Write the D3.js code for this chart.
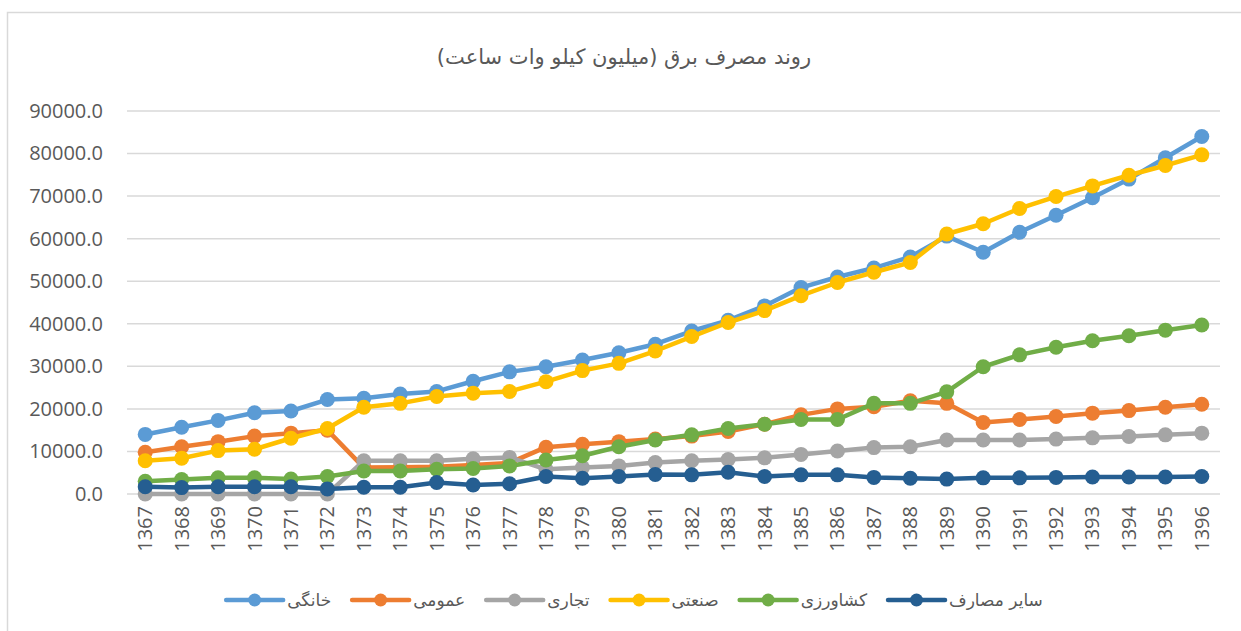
<!DOCTYPE html>
<html><head><meta charset="utf-8">
<script src="https://cdn.jsdelivr.net/npm/d3@7"></script>
<style>
html,body{margin:0;padding:0;background:#fff;}
svg{display:block;}
</style></head>
<body>
<svg id="chart" width="1241" height="631"></svg>
<script>
const titleText = "روند مصرف برق (میلیون کیلو وات ساعت)";
const years = ["1367","1368","1369","1370","1371","1372","1373","1374","1375","1376","1377","1378","1379","1380","1381","1382","1383","1384","1385","1386","1387","1388","1389","1390","1391","1392","1393","1394","1395","1396"];
const yTicks = [0,10000,20000,30000,40000,50000,60000,70000,80000,90000];
const seriesNames = ["خانگی","عمومی","تجاری","صنعتی","کشاورزی","سایر مصارف"];
const seriesColors = ["#5B9BD5","#ED7D31","#A5A5A5","#FFC000","#70AD47","#255E91"];
const khanegi = [14000,15700,17300,19100,19500,22200,22500,23500,24100,26500,28700,29900,31500,33200,35200,38300,40800,44200,48500,51000,53100,55700,60600,56800,61500,65500,69600,74000,79000,84000];
const omumi = [9800,11100,12300,13600,14300,15000,6200,6300,6400,6800,7300,11000,11700,12300,12900,13600,14700,16400,18600,20000,20500,21900,21300,16800,17500,18200,19000,19600,20400,21100];
const tejari = [0,0,0,0,0,0,7800,7800,7800,8300,8600,5800,6200,6600,7400,7800,8100,8500,9300,10100,10900,11100,12700,12700,12700,12900,13200,13500,13900,14300];
const sanati = [7800,8400,10200,10500,13100,15400,20400,21300,22900,23700,24100,26400,29000,30700,33600,37000,40300,43100,46600,49700,52100,54400,61100,63500,67100,69900,72400,74900,77200,79700];
const keshavarzi = [3000,3400,3800,3800,3500,4100,5400,5400,5800,6000,6600,8000,9000,11100,12700,13900,15400,16400,17500,17500,21300,21300,24000,29900,32700,34500,36000,37200,38500,39700];
const sayer = [1700,1500,1700,1700,1700,1200,1600,1600,2700,2100,2400,4100,3700,4100,4600,4500,5100,4100,4500,4500,3900,3700,3500,3800,3800,3900,4000,4000,4000,4100];
const allSeries = [khanegi, omumi, tejari, sanati, keshavarzi, sayer];

const svg = d3.select("#chart");
const txtColor = "#595959";
const numFont = "'Open Sans', sans-serif";
const arFont = "'DejaVu Sans', sans-serif";

// outer border (cropped chart area)
svg.append("rect").attr("x",7.5).attr("y",12.5).attr("width",1300).attr("height",700)
  .attr("fill","none").attr("stroke","#d9d9d9").attr("stroke-width",1.5);

const plot = {left:127, right:1220, top:111, bottom:494};
const x = d3.scaleBand().domain(years).range([plot.left, plot.right]);
const y = d3.scaleLinear().domain([0,90000]).range([plot.bottom, plot.top]);
const cx = d => x(d) + x.bandwidth()/2;

// title
svg.append("text").attr("x",624).attr("y",64).attr("text-anchor","middle")
  .attr("direction","rtl").attr("font-family",arFont).attr("font-size",21)
  .attr("fill",txtColor).text(titleText);

// gridlines
svg.append("g").selectAll("line").data(yTicks).join("line")
  .attr("x1",plot.left).attr("x2",plot.right)
  .attr("y1",d=>y(d)).attr("y2",d=>y(d))
  .attr("stroke","#d9d9d9").attr("stroke-width",1.5);

// y axis labels
const yAxis = d3.axisLeft(y).tickValues(yTicks).tickFormat(d=>d3.format(".1f")(d)).tickSize(0).tickPadding(24);
const gy = svg.append("g").attr("transform",`translate(${plot.left},0)`).call(yAxis);
gy.select(".domain").remove();
gy.selectAll("text").attr("font-family",numFont).attr("font-size",20).attr("fill",txtColor);

// x axis labels
const xAxis = d3.axisBottom(x).tickSize(0).tickPadding(0);
const gx = svg.append("g").attr("transform",`translate(0,${plot.bottom})`).call(xAxis);
gx.select(".domain").remove();
gx.selectAll("text").attr("font-family",numFont).attr("font-size",20).attr("fill",txtColor)
  .attr("text-anchor","end").attr("dy","0.35em")
  .attr("transform","translate(0,12) rotate(-90)").attr("x",0).attr("y",0);

// series
const line = d3.line().x((d,i)=>cx(years[i])).y(d=>y(d));
allSeries.forEach((vals, si) => {
  const g = svg.append("g");
  g.append("path").datum(vals).attr("d",line).attr("fill","none")
    .attr("stroke",seriesColors[si]).attr("stroke-width",4.5).attr("stroke-linejoin","round");
  g.selectAll("circle").data(vals).join("circle")
    .attr("cx",(d,i)=>cx(years[i])).attr("cy",d=>y(d)).attr("r",7.5)
    .attr("fill",seriesColors[si]);
});

// legend
const legend = svg.append("g");
const symW = 57, gapT = 4, gapItem = 21, legY = 600;
let items = [];
let cur = 0;
seriesNames.forEach((name, i) => {
  const gi = legend.append("g");
  gi.append("line").attr("x1",0).attr("x2",symW).attr("y1",0).attr("y2",0)
    .attr("stroke",seriesColors[i]).attr("stroke-width",4.5).attr("stroke-linecap","round");
  gi.append("circle").attr("cx",symW/2).attr("cy",0).attr("r",6.5).attr("fill",seriesColors[i]);
  const t = gi.append("text").attr("x",symW+gapT).attr("y",0).attr("dy","0.35em")
    .attr("font-family",arFont).attr("font-size",17).attr("fill",txtColor)
    .attr("text-anchor","start").text(name);
  const w = t.node().getComputedTextLength();
  items.push({gi, off:cur});
  cur += symW + gapT + w + gapItem;
});
const total = cur - gapItem;
const startX = 634.5 - total/2;
items.forEach(it => it.gi.attr("transform",`translate(${startX+it.off},${legY})`));
</script>
</body></html>
